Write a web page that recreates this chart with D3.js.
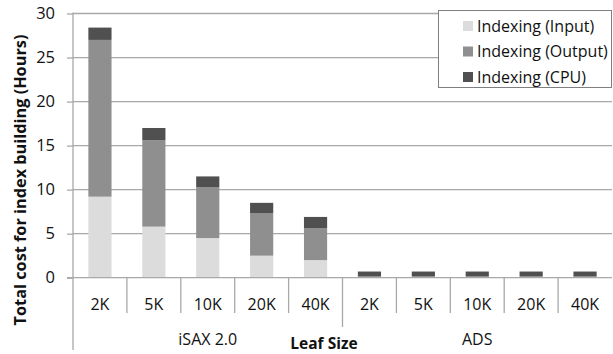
<!DOCTYPE html>
<html><head><meta charset="utf-8">
<script src="https://cdn.jsdelivr.net/npm/d3@7"></script>
<style>body{margin:0;background:#fff}svg{display:block;font-family:"Open Sans",sans-serif}</style>
</head><body><svg id="c" width="613" height="354"></svg>
<script>
const leafSizes = ["2K","5K","10K","20K","40K","2K","5K","10K","20K","40K"];
const groups = ["iSAX 2.0","ADS"];
const groupOf = [0,0,0,0,0,1,1,1,1,1];
const inputHours  = [9.2, 5.8, 4.5, 2.5, 2.0, 0.05, 0.05, 0.05, 0.05, 0.05];
const outputHours = [17.8, 9.8, 5.8, 4.8, 3.6, 0.1, 0.1, 0.1, 0.1, 0.1];
const cpuHours    = [1.4, 1.4, 1.2, 1.2, 1.3, 0.55, 0.55, 0.55, 0.55, 0.55];
const seriesNames = ["Indexing (Input)","Indexing (Output)","Indexing (CPU)"];
const yTicks = [0,5,10,15,20,25,30];

const FONT = "'Open Sans',sans-serif";
const colors = ["#dcdcdc","#8f8f8f","#505050"];
const svg = d3.select("#c");
const L = 73, R = 612, T = 13.5, B = 277.7;
const x = d3.scaleBand().domain(d3.range(leafSizes.length)).range([L, R]).paddingInner(0.57).paddingOuter(0.285);
const xc = d3.scaleBand().domain(d3.range(leafSizes.length)).range([L, R]);
const y = d3.scaleLinear().domain([0,30]).range([B, T]);

// gridlines
svg.append("g").selectAll("line").data(yTicks.filter(d=>d>0)).join("line")
  .attr("x1", L).attr("x2", R).attr("y1", d=>y(d)).attr("y2", d=>y(d))
  .attr("stroke","#a8a8a8").attr("stroke-width",1.3);

// stacked bars
const rows = leafSizes.map((k,i)=>({i, input: inputHours[i], output: outputHours[i], cpu: cpuHours[i]}));
const stack = d3.stack().keys(["input","output","cpu"])(rows);
svg.append("g").selectAll("g").data(stack).join("g").attr("fill",(d,i)=>colors[i])
  .selectAll("rect").data(d=>d).join("rect")
  .attr("x", d=>x(d.data.i)).attr("width", x.bandwidth())
  .attr("y", d=>y(d[1])).attr("height", d=>Math.max(0, y(d[0])-y(d[1])));

// y axis
const yAxis = d3.axisLeft(y).tickValues(yTicks).tickSize(6).tickPadding(12);
const ya = svg.append("g").attr("transform",`translate(${L},0)`).call(yAxis);
ya.select(".domain").remove();
ya.selectAll(".tick line").attr("stroke","#a8a8a8").attr("stroke-width",1.3);
ya.selectAll(".tick text").attr("font-size",16.5).attr("font-family",FONT).attr("fill","#111");
svg.append("line").attr("x1",L).attr("x2",L).attr("y1",T-1).attr("y2",350).attr("stroke","#a8a8a8").attr("stroke-width",1.3);

// x axis line
svg.append("line").attr("x1",L-6).attr("x2",R).attr("y1",B).attr("y2",B).attr("stroke","#a8a8a8").attr("stroke-width",1.3);

// category dividers
svg.append("g").selectAll("line").data(d3.range(1,leafSizes.length)).join("line")
  .attr("x1", d=>xc(d)).attr("x2", d=>xc(d))
  .attr("y1", B).attr("y2", d=> d===5 ? 327 : 313)
  .attr("stroke","#a8a8a8").attr("stroke-width",1.3);

// category labels
svg.append("g").selectAll("text").data(leafSizes).join("text")
  .attr("x",(d,i)=>xc(i)+xc.bandwidth()/2).attr("y",304).attr("dy","0.35em")
  .attr("text-anchor","middle").attr("font-size",16).attr("fill","#111").text(d=>d);

// group labels
svg.append("g").selectAll("text").data(groups).join("text")
  .attr("x",(d,g)=>{const idx=d3.range(leafSizes.length).filter(i=>groupOf[i]===g);return (xc(idx[0])+xc(idx[idx.length-1])+xc.bandwidth())/2;})
  .attr("y",339).attr("dy","0.35em").attr("text-anchor","middle").attr("font-size",16).attr("fill","#111").text(d=>d);

// axis titles
svg.append("text").attr("x",324).attr("y",344).attr("dy","0.35em").attr("text-anchor","middle")
  .attr("font-size",15.5).attr("font-weight","bold").attr("fill","#111").text("Leaf Size");
svg.append("text").attr("transform","translate(20,180) rotate(-90)").attr("dy","0.35em").attr("text-anchor","middle")
  .attr("font-size",16.3).attr("font-weight","bold").attr("fill","#111").text("Total cost for index building (Hours)");

// legend
const lg = svg.append("g");
lg.append("rect").attr("x",438.5).attr("y",10.5).attr("width",173).attr("height",77).attr("fill","#fff").attr("stroke","#7f7f7f").attr("stroke-width",1);
seriesNames.forEach((n,i)=>{
  const cy = 26 + i*25.5;
  lg.append("rect").attr("x",463).attr("y",cy-5).attr("width",10).attr("height",10).attr("fill",colors[i]);
  lg.append("text").attr("x",477).attr("y",cy).attr("dy","0.35em").attr("font-size",16).attr("fill","#111").text(n);
});
</script></body></html>
